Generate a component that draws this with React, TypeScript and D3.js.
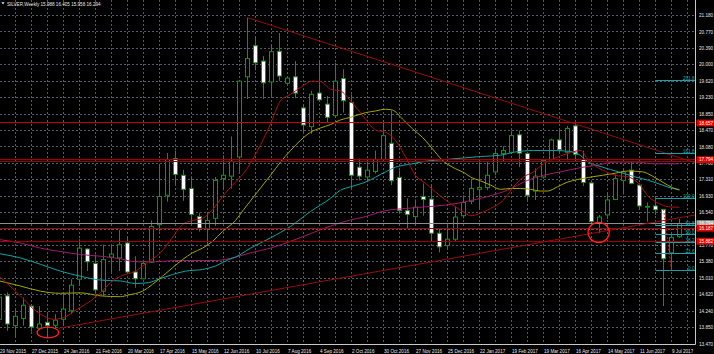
import React from 'react';
import * as d3 from 'd3';

// ---------- DATA ----------
const firstIndex = -1; // first (partially visible) weekly bar: 29 Nov 2015
// [open, high, low, close]
const candles: [number, number, number, number][] = [
  [14.05, 14.62, 13.98, 14.57],
  [14.60, 14.68, 13.78, 13.94],
  [13.90, 14.29, 13.63, 14.12],
  [14.07, 14.56, 13.90, 14.38],
  [14.36, 14.40, 13.76, 13.87],
  [13.84, 14.36, 13.80, 13.94],
  [13.98, 14.17, 13.63, 13.90],
  [13.91, 14.17, 13.82, 14.03],
  [14.05, 14.64, 13.94, 14.29],
  [14.25, 14.99, 14.17, 14.85],
  [14.99, 15.93, 14.87, 15.72],
  [15.70, 15.72, 15.18, 15.40],
  [15.36, 15.57, 14.68, 14.74],
  [14.71, 15.80, 14.60, 15.45],
  [15.51, 15.80, 15.14, 15.58],
  [15.49, 16.15, 15.18, 15.80],
  [15.84, 15.99, 15.15, 15.16],
  [15.16, 15.53, 14.79, 15.00],
  [15.00, 15.41, 14.99, 15.36],
  [15.39, 16.37, 15.37, 16.23],
  [16.27, 17.70, 16.11, 16.93],
  [16.96, 17.95, 16.81, 17.80],
  [17.82, 18.01, 17.20, 17.45],
  [17.43, 17.56, 16.83, 17.10],
  [17.12, 17.39, 16.31, 16.51],
  [16.46, 16.55, 16.11, 16.19],
  [16.17, 16.54, 15.80, 16.37],
  [16.42, 17.39, 16.24, 17.31],
  [17.35, 17.90, 17.08, 17.43],
  [17.41, 18.34, 17.12, 17.76],
  [17.86, 19.67, 17.51, 19.64],
  [19.74, 21.13, 19.22, 20.17],
  [20.47, 20.69, 19.89, 20.07],
  [20.11, 20.23, 19.22, 19.60],
  [19.62, 20.51, 19.29, 20.33],
  [20.34, 20.77, 19.64, 19.76],
  [19.59, 19.71, 19.57, 19.71],
  [19.74, 20.11, 19.24, 19.36],
  [19.01, 19.10, 18.44, 18.61],
  [18.57, 19.41, 18.40, 19.33],
  [19.36, 20.13, 19.19, 19.20],
  [19.10, 19.29, 18.67, 18.79],
  [18.83, 20.07, 18.79, 19.64],
  [19.70, 19.92, 18.90, 19.18],
  [19.14, 19.33, 17.12, 17.43],
  [17.62, 17.82, 17.31, 17.41],
  [17.39, 17.82, 17.27, 17.55],
  [17.52, 18.01, 17.47, 17.80],
  [17.80, 18.73, 17.78, 18.36],
  [18.18, 18.94, 17.20, 17.30],
  [17.38, 17.55, 16.52, 16.60],
  [16.60, 16.89, 16.17, 16.51],
  [16.46, 16.86, 16.24, 16.68],
  [16.93, 17.24, 16.48, 16.86],
  [16.87, 17.20, 15.88, 16.07],
  [16.07, 16.19, 15.62, 15.75],
  [15.78, 16.31, 15.70, 15.93],
  [15.93, 16.69, 15.88, 16.45],
  [16.48, 16.96, 16.42, 16.79],
  [16.82, 17.35, 16.75, 17.12],
  [17.10, 17.74, 16.62, 17.14],
  [17.14, 17.74, 17.08, 17.43],
  [17.51, 18.05, 17.43, 17.94],
  [17.94, 18.11, 17.74, 18.01],
  [17.97, 18.48, 17.94, 18.36],
  [18.38, 18.48, 17.62, 17.95],
  [17.94, 17.95, 16.85, 16.96],
  [17.06, 17.59, 16.85, 17.41],
  [17.39, 17.80, 17.35, 17.78],
  [17.80, 18.29, 17.78, 18.26],
  [18.26, 18.49, 17.97, 18.03],
  [17.97, 18.59, 17.78, 18.53],
  [18.59, 18.69, 17.78, 17.92],
  [17.80, 18.01, 17.18, 17.26],
  [17.25, 17.26, 16.31, 16.34],
  [16.32, 16.50, 16.07, 16.45],
  [16.50, 17.04, 16.40, 16.85],
  [16.86, 17.45, 16.85, 17.35],
  [17.31, 17.59, 16.98, 17.51],
  [17.55, 17.74, 17.22, 17.24],
  [17.20, 17.24, 16.63, 16.71],
  [16.69, 16.79, 16.34, 16.70],
  [16.71, 16.89, 16.50, 16.62],
  [16.63, 16.64, 14.36, 15.47],
  [15.61, 16.07, 15.20, 15.97],
  [15.988, 16.405, 15.958, 16.294],
];

// moving averages: [bar index, price]
const maRed: [number, number][] = [
  [-1, 15.05], [1.625, 14.6], [3.25, 14.29], [4.5, 14.13], [5.75, 14.05], [7, 14.09], [8.75, 14.29],
  [10.375, 14.48], [11.625, 14.67], [12.875, 14.91], [14.125, 15.06], [16, 15.18], [17.625, 15.41],
  [18.875, 15.57], [20.125, 15.84], [21, 16.07], [21.875, 16.27], [23.125, 16.37], [24.375, 16.42],
  [25.625, 16.62], [26.875, 16.93], [28.5, 17.27], [29.5, 17.47], [31.25, 18.01], [32.875, 18.63],
  [34.125, 19.18], [35.375, 19.33], [36.625, 19.49], [38.125, 19.64], [39.125, 19.63], [40.375, 19.45],
  [41.625, 19.41], [42.875, 19.18], [44.75, 18.75], [46, 18.49], [47.25, 18.44], [48.5, 18.25],
  [49.75, 17.86], [51, 17.43], [52.25, 17.24], [53.5, 17.04], [54.75, 16.85], [56, 16.69], [57.25, 16.54],
  [57.875, 16.48], [59.125, 16.54], [60.375, 16.65], [62, 16.85], [63.25, 17.16], [64.5, 17.39],
  [65.75, 17.51], [67, 17.7], [68.25, 17.82], [70, 17.94], [71.625, 18.01], [72.625, 17.78],
  [74.375, 17.55], [76, 17.43], [77.625, 17.39], [78.875, 17.24], [80.125, 16.93], [81.375, 16.77],
  [82.625, 16.69], [84, 16.68],
];
const maYellow: [number, number][] = [
  [-1, 14.95], [1.625, 14.83], [4.125, 14.71], [6.625, 14.66], [9.125, 14.67], [11.625, 14.6],
  [14.125, 14.58], [15.125, 14.62], [16.875, 14.71], [18.125, 14.87], [19.375, 15.06], [20.625, 15.26],
  [21.875, 15.45], [23.125, 15.61], [24.375, 15.72], [25.625, 15.88], [26.875, 16.11], [28.5, 16.37],
  [29.5, 16.62], [31.25, 17.04], [32.875, 17.43], [34.125, 17.74], [35.375, 18.01], [36.625, 18.25],
  [37.875, 18.44], [39.125, 18.54], [40.375, 18.62], [41.625, 18.73], [42.875, 18.79], [44.75, 18.9],
  [46, 18.94], [47.25, 18.98], [48.125, 18.96], [49.375, 18.75], [50.625, 18.52], [51.875, 18.32],
  [53.125, 18.05], [54.375, 17.78], [55.625, 17.62], [57.25, 17.47], [57.875, 17.39], [59.125, 17.3],
  [60.375, 17.2], [61.625, 17.1], [62.875, 17.12], [64.125, 17.12], [65.375, 17.1], [66.625, 17.06],
  [67.5, 17.06], [68.75, 17.16], [70, 17.27], [71.25, 17.33], [72.625, 17.38], [74.375, 17.43],
  [76, 17.48], [77.625, 17.53], [79.375, 17.51], [80.625, 17.41], [81.875, 17.27], [83.125, 17.14],
  [84, 17.08],
];
const maCyan: [number, number][] = [
  [-1, 15.59], [1.625, 15.49], [4.125, 15.34], [6.625, 15.18], [9.125, 15.06], [11.625, 14.97],
  [14.125, 14.95], [16, 14.89], [17.625, 14.91], [18.875, 14.99], [20.625, 15.1], [22.25, 15.18],
  [24.375, 15.22], [26, 15.3], [27.625, 15.45], [28.5, 15.51], [30.375, 15.72], [32.875, 15.96],
  [35.375, 16.23], [37.875, 16.58], [40.375, 16.89], [41.625, 17.08], [42.875, 17.16], [44.75, 17.27],
  [47.25, 17.51], [48.5, 17.62], [50.625, 17.7], [52.25, 17.76], [54.75, 17.8], [57.25, 17.84],
  [59.125, 17.87], [61.625, 17.9], [63.25, 17.97], [65.75, 18.01], [68.25, 18.01], [70.375, 17.99],
  [71.25, 17.94], [72.625, 17.74], [74.375, 17.62], [76.375, 17.51], [78.5, 17.39], [80.125, 17.31],
  [81.875, 17.2], [83.125, 17.12], [84, 17.1],
];
const maMagenta: [number, number][] = [
  [-1, 15.92], [1.625, 15.84], [4.125, 15.72], [6.625, 15.64], [9.125, 15.57], [11.625, 15.53],
  [14.125, 15.47], [16, 15.4], [18.5, 15.4], [21, 15.43], [26, 15.43], [28.5, 15.51], [30.375, 15.61],
  [32.875, 15.72], [35.375, 15.88], [37.875, 16.06], [40.375, 16.24], [42.875, 16.38], [44.75, 16.46],
  [47.25, 16.6], [49.75, 16.65], [52.25, 16.69], [54.75, 16.73], [57.25, 16.81], [60, 16.93],
  [62.5, 17.08], [65, 17.31], [67, 17.43], [69.125, 17.51], [71.625, 17.61], [73.5, 17.66], [76, 17.74],
  [78.5, 17.74], [81, 17.7], [84, 17.7],
];

// horizontal levels
const levelMain = 18.657;
const levelPair = [17.795, 17.742];
const levelLow = [16.187, 15.882];
const bidPrice = 16.294;

// trend lines: [[index, price], [index, price]]
const trendDown: [number, number][] = [[30, 21.13], [86, 17.72]];
const trendUp: [number, number][] = [[6.4, 13.84], [86, 16.5]];

// Fibonacci retracement: 0 level price, 100 level price, start bar
const fibLow = 15.19;
const fibHigh = 16.895;
const fibStart = 81;
const fibRatios = [0, 23.6, 38.2, 50, 61.8, 100, 161.8, 261.8];
const fibLabels = ['0.0', '23.6', '38.2', '50.0', '61.8', '100.0', '161.8', '261.8'];
const fibBase: [number, number][] = [[82, 16.64], [83, 15.2]];

// red marker circles: [index, price]
const markA: [number, number] = [5.05, 13.74];
const markB: [number, number] = [73.9, 16.09];

// axis labels
const priceLabels = ['21.180', '20.770', '20.390', '20.000', '19.620', '19.230', '18.850', '18.470',
  '18.080', '17.700', '17.310', '16.930', '16.540', '16.150', '15.770', '15.380', '15.010', '14.620',
  '14.240', '13.850', '13.470'];
const priceTop = 21.18;
const priceBottom = 13.47;
const dateLabels = ['29 Nov 2015', '27 Dec 2015', '24 Jan 2016', '21 Feb 2016', '20 Mar 2016',
  '17 Apr 2016', '15 May 2016', '12 Jun 2016', '10 Jul 2016', '7 Aug 2016', '4 Sep 2016', '2 Oct 2016',
  '30 Oct 2016', '27 Nov 2016', '25 Dec 2016', '22 Jan 2017', '19 Feb 2017', '19 Mar 2017',
  '16 Apr 2017', '14 May 2017', '11 Jun 2017', '9 Jul 2017'];
const title = 'SILVER,Weekly  15.988 16.405 15.958 16.294';

// ---------- CHART ----------
const PLOT_R = 695.5;
const PLOT_B = 344;
const FONT = "'Liberation Sans', Arial, sans-serif";
const FS = 4.6;

export default function App() {
  const x = d3.scaleLinear().domain([0, 84]).range([7.5, 679.5]);
  const y = d3.scaleLinear().domain([priceBottom, priceTop]).range([PLOT_B, 15.5]);
  const yc = (p: number) => Math.floor(y(p)) + 0.5; // crisp horizontal lines

  const maLine = d3
    .line<[number, number]>()
    .x((d) => x(d[0]))
    .y((d) => y(d[1]))
    .curve(d3.curveMonotoneX);

  const step = (priceTop - priceBottom) / (priceLabels.length - 1);
  const gridPrices = priceLabels.map((_, i) => priceTop - i * step);

  const vGrid = d3.range(-1, 87, 2);

  const lineAt = (pts: [number, number][], k: number) => {
    const [a, b] = pts;
    return a[1] + ((b[1] - a[1]) * (k - a[0])) / (b[0] - a[0]);
  };

  const green = '#0b9a0b';
  const xEnd = x.invert(PLOT_R);

  const boxes = [
    { p: levelMain, t: '18.657', bg: '#e00000', fg: '#fff' },
    { p: levelPair[0], t: '17.794', bg: '#e00000', fg: '#fff' },
    { p: bidPrice, t: '16.294', bg: '#a8a8a8', fg: '#fff' },
    { p: levelLow[0], t: '16.187', bg: '#e00000', fg: '#fff' },
    { p: levelLow[1], t: '15.882', bg: '#e00000', fg: '#fff' },
  ];

  return (
    <svg
      width={714}
      height={354}
      style={{ position: 'absolute', left: 0, top: 0, display: 'block' }}
      fontFamily={FONT}
    >
      <defs>
        <clipPath id="plotclip">
          <rect x={0} y={0} width={PLOT_R} height={PLOT_B} />
        </clipPath>
      </defs>
      <rect x={0} y={0} width={714} height={354} fill="#000" />

      {/* grid */}
      <g stroke="#525a64" strokeWidth={1} strokeDasharray="2,2">
        {gridPrices.map((p, i) => (
          <line key={'h' + i} x1={0} x2={PLOT_R} y1={yc(p)} y2={yc(p)} />
        ))}
        {vGrid.map((k) => (
          <line key={'v' + k} x1={x(k)} x2={x(k)} y1={0} y2={PLOT_B} />
        ))}
      </g>

      <g clipPath="url(#plotclip)">
        {/* candles */}
        {candles.map(([o, h, l, c], i) => {
          const k = firstIndex + i;
          const cx = x(k);
          const top = y(Math.max(o, c));
          const bot = y(Math.min(o, c));
          const bull = c >= o;
          return (
            <g key={'c' + i}>
              <line x1={cx} x2={cx} y1={y(h)} y2={y(l)} stroke={green} strokeWidth={1} />
              <rect
                x={cx - 2}
                y={top}
                width={4}
                height={Math.max(bot - top, 0.8)}
                fill={bull ? '#000' : '#fff'}
                stroke={green}
                strokeWidth={1}
              />
            </g>
          );
        })}

        {/* moving averages */}
        <path d={maLine(maMagenta) || ''} fill="none" stroke="#a3186e" strokeWidth={1} />
        <path d={maLine(maCyan) || ''} fill="none" stroke="#11a3a3" strokeWidth={1} />
        <path d={maLine(maYellow) || ''} fill="none" stroke="#a6a600" strokeWidth={1} />
        <path d={maLine(maRed) || ''} fill="none" stroke="#a81010" strokeWidth={1} />

        {/* horizontal levels */}
        <line x1={0} x2={PLOT_R} y1={yc(levelMain)} y2={yc(levelMain)} stroke="#c80000" strokeWidth={1} />
        {[...levelPair, ...levelLow].map((p, i) => (
          <line key={'lv' + i} x1={0} x2={PLOT_R} y1={yc(p)} y2={yc(p)} stroke="#a00000" strokeWidth={1} />
        ))}
        <line x1={0} x2={PLOT_R} y1={yc(bidPrice)} y2={yc(bidPrice)} stroke="#8c8c8c" strokeWidth={1} />

        {/* trend lines */}
        <line
          x1={x(trendDown[0][0])}
          y1={y(trendDown[0][1])}
          x2={x(xEnd)}
          y2={y(lineAt(trendDown, xEnd))}
          stroke="#9a0c0c"
          strokeWidth={1}
        />
        <line
          x1={x(trendUp[0][0])}
          y1={y(trendUp[0][1])}
          x2={x(xEnd)}
          y2={y(lineAt(trendUp, xEnd))}
          stroke="#9a0c0c"
          strokeWidth={1}
        />

        {/* fibonacci */}
        {fibRatios.map((r, i) => {
          const p = fibLow + (r / 100) * (fibHigh - fibLow);
          const yy = yc(p);
          return (
            <g key={'f' + i}>
              <line x1={x(fibStart)} x2={PLOT_R} y1={yy} y2={yy} stroke="#1a9fa6" strokeWidth={1} />
              <text x={PLOT_R - 1} y={yy - 1} fontSize={FS} fill="#1aa8b0" textAnchor="end">
                {fibLabels[i]}
              </text>
            </g>
          );
        })}
        <line
          x1={x(fibBase[0][0])}
          y1={y(fibBase[0][1])}
          x2={x(fibBase[1][0])}
          y2={y(fibBase[1][1])}
          stroke="#e02020"
          strokeWidth={1}
          strokeDasharray="2,2"
        />

        {/* markers */}
        <ellipse cx={x(markA[0])} cy={y(markA[1])} rx={10.8} ry={5.3} fill="none" stroke="#ff2020" strokeWidth={1.3} />
        <ellipse cx={x(markB[0])} cy={y(markB[1])} rx={10.6} ry={10} fill="none" stroke="#ff2020" strokeWidth={1.3} />
      </g>

      {/* axes */}
      <line x1={PLOT_R} x2={PLOT_R} y1={0} y2={PLOT_B + 0.5} stroke="#c8c8c8" strokeWidth={1} />
      <line x1={0} x2={PLOT_R} y1={PLOT_B + 0.5} y2={PLOT_B + 0.5} stroke="#c8c8c8" strokeWidth={1} />

      {gridPrices.map((p, i) => (
        <text key={'pl' + i} x={699} y={y(p)} dy="0.35em" fontSize={FS} fill="#e6e6e6">
          {priceLabels[i]}
        </text>
      ))}

      {boxes.map((b, i) => (
        <g key={'b' + i}>
          <rect x={696.5} y={y(b.p) - 3.4} width={17.5} height={6.8} fill={b.bg} />
          <text x={699} y={y(b.p)} dy="0.35em" fontSize={FS} fill={b.fg}>
            {b.t}
          </text>
        </g>
      ))}

      {dateLabels.map((t, i) => (
        <text key={'d' + i} x={x(firstIndex + i * 4) + 0.5} y={352.6} fontSize={FS} fill="#e6e6e6">
          {t}
        </text>
      ))}

      {/* title */}
      <path d="M1.5,2.2 L4.5,2.2 L3,4.6 Z" fill="#e6e6e6" />
      <text x={7} y={5.6} fontSize={FS} fill="#e6e6e6">
        {title}
      </text>
    </svg>
  );
}
